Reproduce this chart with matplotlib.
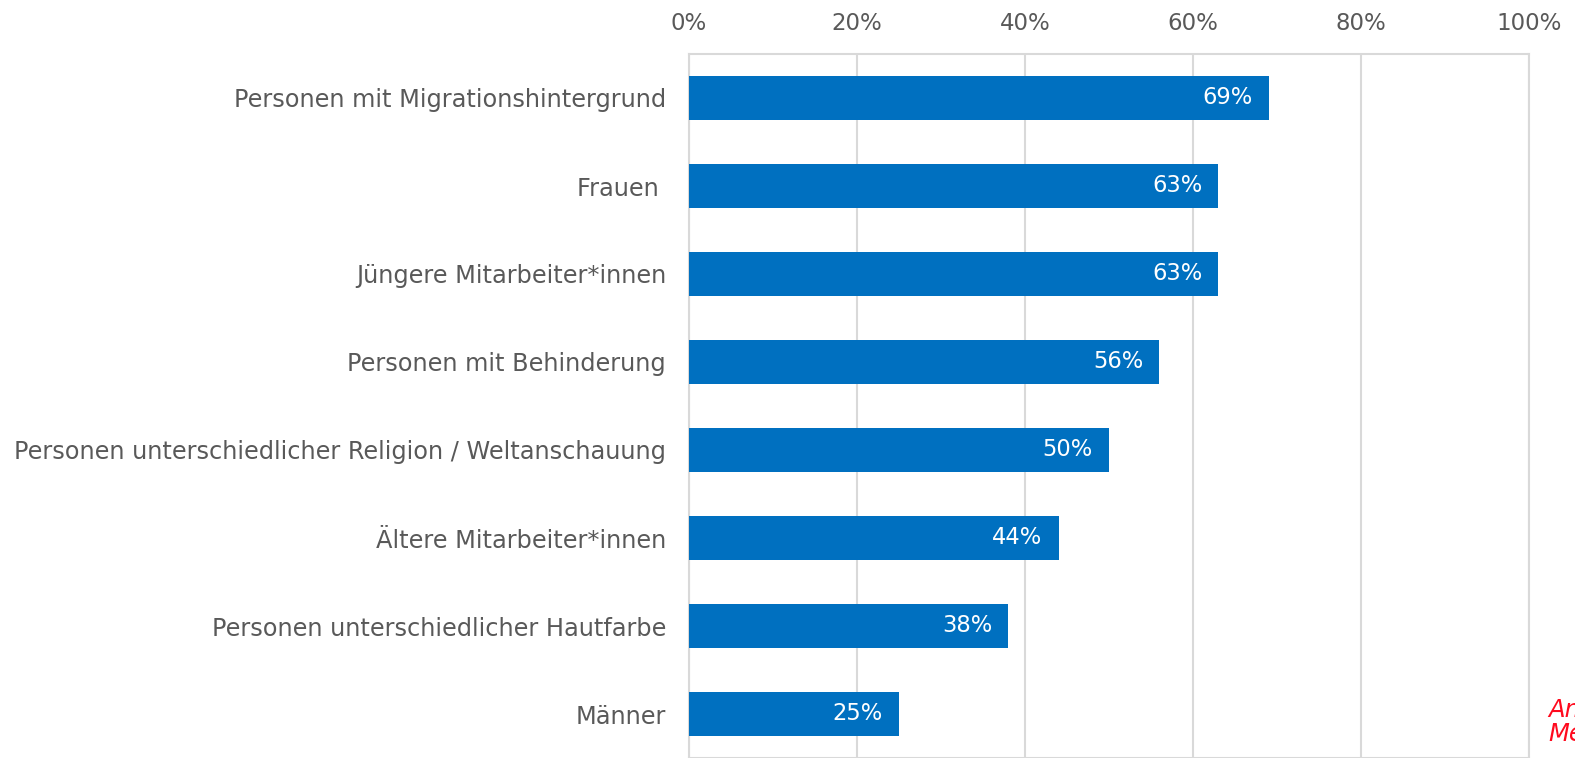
import matplotlib
matplotlib.use("Agg")
import matplotlib.pyplot as plt

categories = [
    "Personen mit Migrationshintergrund",
    "Frauen ",
    "Jüngere Mitarbeiter*innen",
    "Personen mit Behinderung",
    "Personen unterschiedlicher Religion / Weltanschauung",
    "Ältere Mitarbeiter*innen",
    "Personen unterschiedlicher Hautfarbe",
    "Männer",
]
values = [69, 63, 63, 56, 50, 44, 38, 25]
xticks = [0, 20, 40, 60, 80, 100]
xtick_labels = ["0%", "20%", "40%", "60%", "80%", "100%"]

BAR = "#0070C0"
TXT = "#595959"
GRID = "#D9D9D9"

plt.rcParams['font.family'] = ['DejaVu Sans']
fig = plt.figure(figsize=(15.75, 7.58), dpi=100)
ax = fig.add_axes([689/1575, 0.0, 840/1575, 1 - 54/758])

n = len(categories)
ypos = list(range(n))
ax.barh(ypos, values, height=0.5, color=BAR, zorder=3)
ax.set_ylim(n - 0.5, -0.5)
ax.set_xlim(0, 100)
ax.set_xticks(xticks)
ax.set_xticklabels(xtick_labels, fontsize=16.5, color=TXT)
ax.xaxis.tick_top()
ax.tick_params(axis='x', length=0, pad=14)
ax.set_yticks(ypos)
ax.set_yticklabels(categories, fontsize=17.3, color=TXT)
ax.tick_params(axis='y', length=0, pad=16.5)
ax.grid(axis='x', color=GRID, linewidth=1.5, zorder=0)
for s in ['top', 'left', 'right', 'bottom']:
    ax.spines[s].set_color(GRID)
    ax.spines[s].set_linewidth(1.5)

for y, v in zip(ypos, values):
    ax.text(v - 1.9, y, f"{v}%", color="white", fontsize=16.3,
            ha='right', va='center', zorder=4)

fig.text(1548/1575, 1 - 722/758, "Angaben\nMehrfachnennungen", color="#FF0A1E",
         fontsize=17.5, style='italic', ha='left', va='center', linespacing=1.05)

fig.savefig("out.png", dpi=100)
